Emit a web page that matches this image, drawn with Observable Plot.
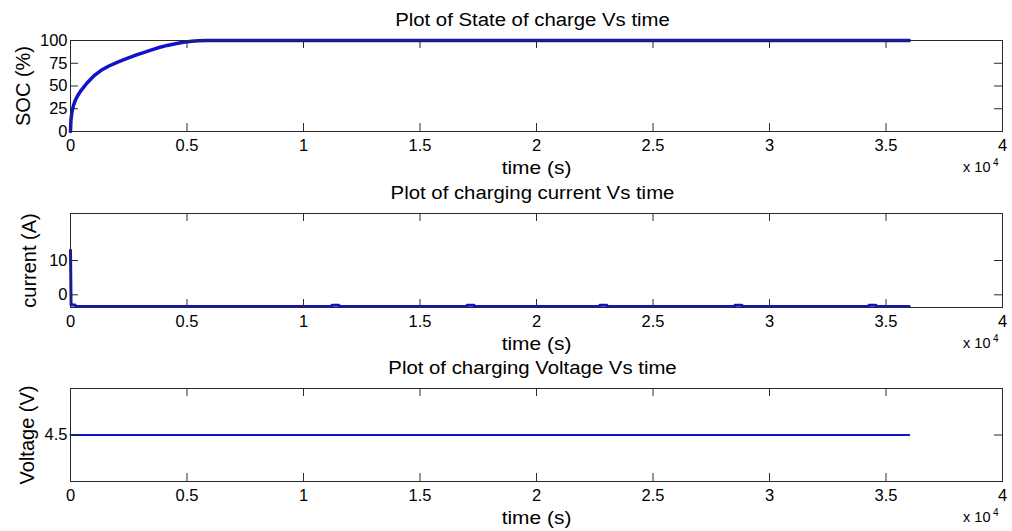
<!DOCTYPE html>
<html><head><meta charset="utf-8">
<script src="https://cdn.jsdelivr.net/npm/d3@7"></script>
<script src="https://cdn.jsdelivr.net/npm/@observablehq/plot@0.6"></script>
<style>
html,body{margin:0;padding:0;background:#fff;}
#chart{position:relative;width:1012px;height:531px;overflow:hidden;background:#fff;}
#chart svg{position:absolute;left:0;}
</style></head><body><div id="chart"></div>
<script>
// ---- data ----
const xTicks = [0, 5000, 10000, 15000, 20000, 25000, 30000, 35000, 40000];
const xTickLabels = ["0", "0.5", "1", "1.5", "2", "2.5", "3", "3.5", "4"];
const xMultiplier = "x 10";
const xExponent = "4";
const xLabel = "time (s)";

const socTime  = [0, 20, 60, 120, 200, 300, 450, 700, 1000, 1300, 1650, 2000, 2400, 2750, 3100, 3450, 3800, 4150, 4500, 4850, 5200, 5500, 5800, 36000];
const socValue = [0, 13, 21, 28, 34, 39, 45, 53, 61, 67, 72, 76, 80, 83.5, 86.5, 89.5, 92.3, 94.6, 96.5, 98.0, 99.1, 99.7, 100, 100];
const socTicks = [0, 25, 50, 75, 100];

const currentTime  = [0, 25, 200, 230, 11200, 11220, 11520, 11540, 17000, 17020, 17320, 17340, 22700, 22720, 23020, 23040, 28500, 28520, 28820, 28840, 34250, 34270, 34570, 34590, 36000];
const currentValue = [13, -3.0, -3.0, -3.4, -3.4, -3.05, -3.05, -3.4, -3.4, -3.05, -3.05, -3.4, -3.4, -3.05, -3.05, -3.4, -3.4, -3.05, -3.05, -3.4, -3.4, -3.05, -3.05, -3.4, -3.4];
const currentTicks = [0, 10];

const voltageTime  = [0, 36000];
const voltageValue = [4.5, 4.5];
const voltageTicks = [4.5];

const titles  = ["Plot of State of charge Vs time", "Plot of charging current Vs time", "Plot of charging Voltage Vs time"];
const yLabels = ["SOC (%)", "current (A)", "Voltage (V)"];

// ---- drawing ----
const FONT = "'Liberation Sans', Arial, Helvetica, sans-serif";
const BLUE = "#1212c8";
const AXC = "#2a2a2a";
const W = 1012, ML = 70, MR = 10;
const FW = W - ML - MR;
const TICK = 8;

const zip = (t, v) => t.map((d, i) => ({t: d, v: v[i]}));

function panel(cfg) {
  const fh = cfg.height - cfg.mt - cfg.mb;
  return Plot.plot({
    width: W, height: cfg.height,
    marginLeft: ML, marginRight: MR, marginTop: cfg.mt, marginBottom: cfg.mb,
    style: {fontFamily: FONT, fontSize: "16.5px", color: "#000", background: "transparent", overflow: "visible"},
    x: {domain: [0, 40000]},
    y: {domain: cfg.yDomain},
    marks: [
      Plot.line(cfg.data, {x: "t", y: "v", stroke: BLUE, strokeWidth: cfg.sw, strokeLinejoin: "round"}),
      Plot.tickX(xTicks, {x: d => d, insetTop: fh - TICK, stroke: AXC}),
      Plot.tickX(xTicks, {x: d => d, insetBottom: fh - TICK, stroke: AXC}),
      Plot.tickY(cfg.yTicks, {y: d => d, insetRight: FW - TICK, stroke: AXC}),
      Plot.tickY(cfg.yTicks, {y: d => d, insetLeft: FW - TICK, stroke: AXC}),
      Plot.frame({stroke: AXC, strokeWidth: 1}),
      Plot.axisX(xTicks, {anchor: "bottom", tickSize: 0, tickPadding: 8, label: null,
        tickFormat: d => xTickLabels[xTicks.indexOf(d)]}),
      Plot.axisY(cfg.yTicks, {anchor: "left", tickSize: 0, tickPadding: 3, label: null}),
      Plot.text([cfg.title], {frameAnchor: "top", dx: -4, dy: -15, lineAnchor: "bottom", fontSize: 18}),
      Plot.text([xLabel], {frameAnchor: "bottom", dy: 42, lineAnchor: "bottom", fontSize: 18.5}),
      Plot.text([xMultiplier], {frameAnchor: "bottom-right", dx: -12, dy: 40, lineAnchor: "bottom", textAnchor: "end", fontSize: 14.5}),
      Plot.text([xExponent], {frameAnchor: "bottom-right", dx: -9.5, dy: 34, lineAnchor: "bottom", textAnchor: "start", fontSize: 10}),
      Plot.text([cfg.yLabel], {frameAnchor: "left", dx: cfg.yLabelDx, rotate: -90, lineAnchor: "middle", textAnchor: "middle", fontSize: 20})
    ]
  });
}

const chart = document.getElementById("chart");
const panels = [
  {top: 0, height: 180, mt: 40, mb: 49, yDomain: [0, 100], yTicks: socTicks, data: zip(socTime, socValue), sw: 3.5, title: titles[0], yLabel: yLabels[0], yLabelDx: -47},
  {top: 180, height: 175, mt: 33, mb: 48, yDomain: [-3.7, 23.7], yTicks: currentTicks, data: zip(currentTime, currentValue), sw: 3, title: titles[1], yLabel: yLabels[1], yLabelDx: -41},
  {top: 355, height: 176, mt: 33, mb: 50, yDomain: [4, 5], yTicks: voltageTicks, data: zip(voltageTime, voltageValue), sw: 1.8, title: titles[2], yLabel: yLabels[2], yLabelDx: -43}
];
for (const p of panels) {
  const svg = panel(p);
  svg.style.top = p.top + "px";
  chart.appendChild(svg);
  // widen horizontal labels (source figure text is wide relative to its height)
  for (const t of svg.querySelectorAll("text")) {
    const s = t.textContent;
    if (titles.includes(s) || s === xLabel) {
      const len = t.getComputedTextLength();
      t.setAttribute("textLength", (len * 1.13).toFixed(1));
      t.setAttribute("lengthAdjust", "spacingAndGlyphs");
    }
  }
}
</script></body></html>
